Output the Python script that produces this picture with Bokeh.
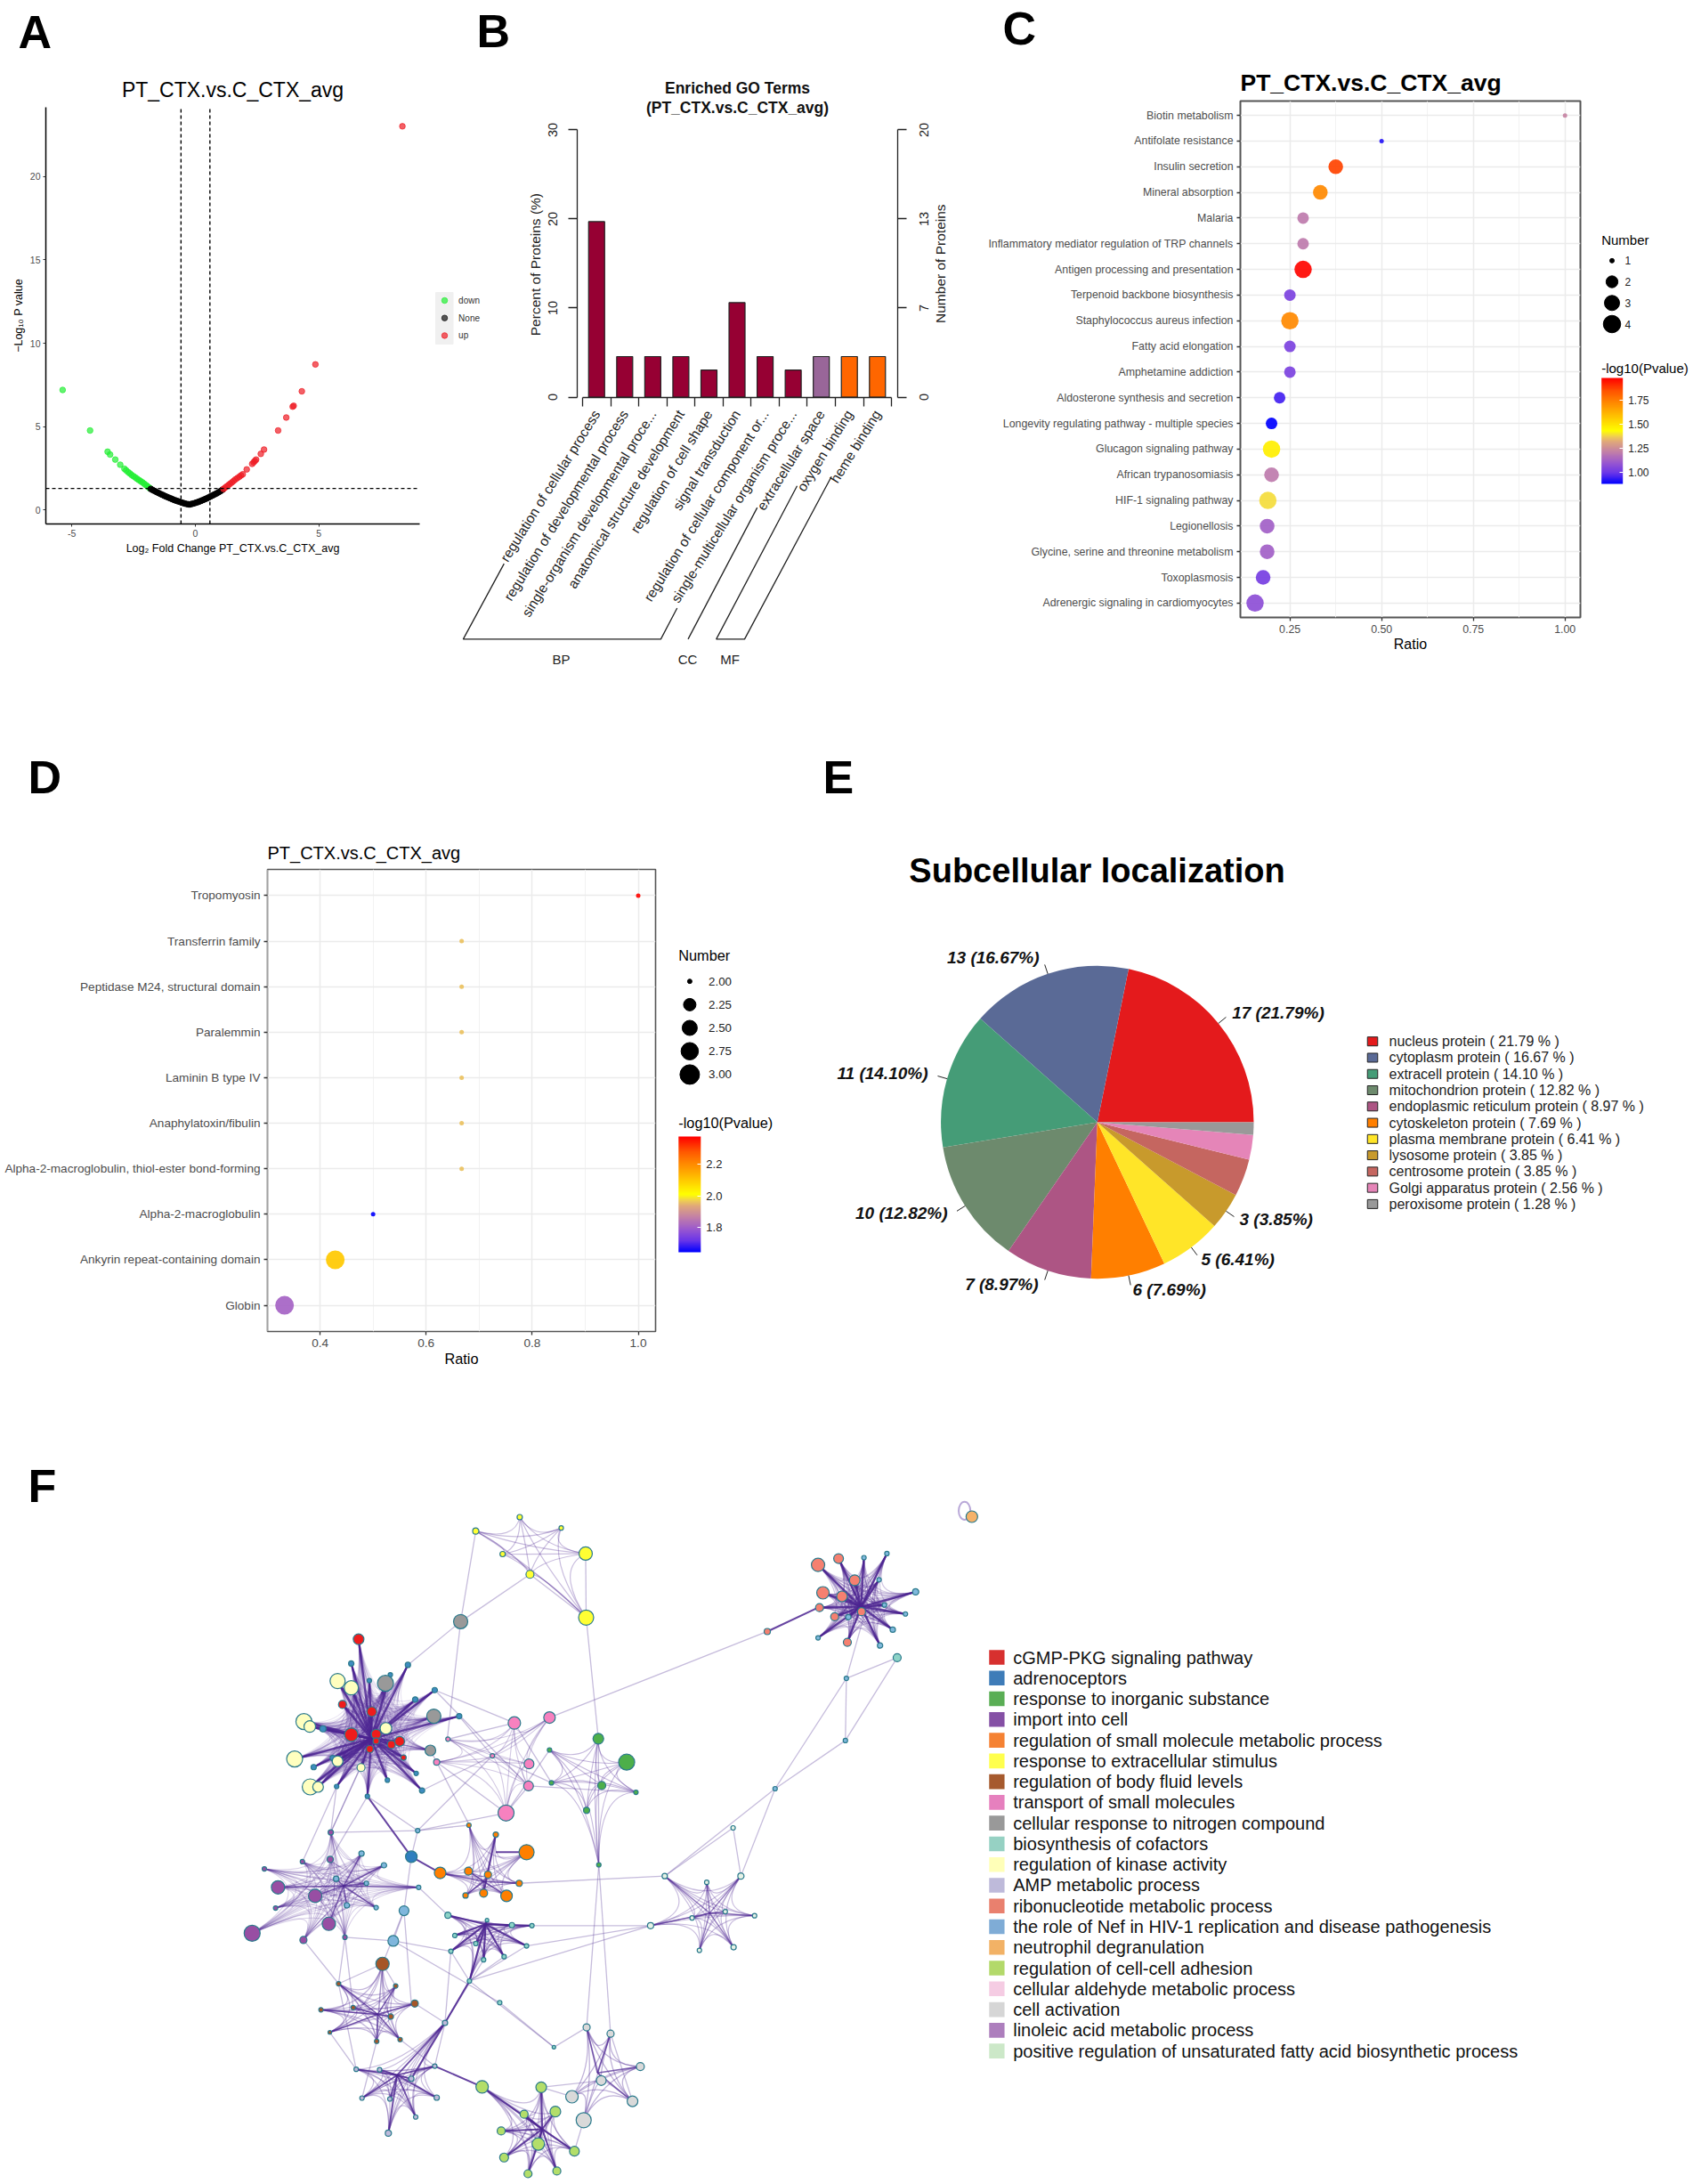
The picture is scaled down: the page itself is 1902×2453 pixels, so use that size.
import math
from bokeh.plotting import figure
from bokeh.layouts import column, row
from bokeh.embed import file_html
from bokeh.resources import INLINE
from bokeh.core.properties import value
from bokeh.models import (Range1d, FactorRange, LinearAxis, FixedTicker, AllLabels,
                          LinearColorMapper, ColorBar, PrintfTickFormatter, ColumnDataSource)

FONT = "Liberation Sans"

# ---------- Panel A: volcano ----------
down_x = [-5.37,-4.26,-3.55,-3.45,-3.24,-3.04,-2.87,-2.80,-2.72,-2.65,-2.58,-2.50,-2.42,-2.35,-2.28,-2.21,-2.14,-2.07,-2.00,-1.94,-1.88,-1.84]
down_y = [7.2,4.77,3.5,3.33,3.03,2.72,2.48,2.38,2.28,2.2,2.11,2.03,1.95,1.87,1.80,1.73,1.66,1.58,1.5,1.43,1.36,1.31]
none_x = [-1.80,-1.72,-1.64,-1.56,-1.48,-1.40,-1.32,-1.24,-1.16,-1.08,-1.0,-.92,-.84,-.76,-.68,-.6,-.52,-.44,-.36,-.28,-.23,-.18,-.1,-.02,.06,.14,.22,.3,.38,.46,.54,.62,.7,.78,.86,.94,1.02,1.10]
none_y = [1.27,1.20,1.14,1.08,1.02,.96,.91,.85,.80,.75,.70,.65,.60,.56,.52,.48,.44,.40,.37,.35,.34,.36,.39,.42,.46,.50,.55,.60,.65,.70,.76,.82,.88,.94,1.0,1.07,1.14,1.22]
up_x = [1.14,1.2,1.27,1.34,1.41,1.48,1.55,1.62,1.7,1.78,1.85,1.92,2.08,2.3,2.36,2.41,2.46,2.65,2.78,3.35,3.68,3.94,3.98,4.31,4.86,8.38]
up_y = [1.27,1.34,1.42,1.5,1.58,1.66,1.75,1.84,1.92,2.0,2.08,2.15,2.44,2.77,2.87,2.95,3.03,3.37,3.63,4.77,5.55,6.2,6.25,7.12,8.73,23.0]
volcano_groups = ["down", "None", "up"]

# ---------- Panel B: GO terms ----------
go_terms = ["regulation of cellular process","regulation of developmental process","single-organism developmental proce...",
            "anatomical structure development","regulation of cell shape","signal transduction",
            "regulation of cellular component or...","single-multicellular organism proce...","extracellular space",
            "oxygen binding","heme binding"]
go_percent = [19.7,4.55,4.55,4.55,3.03,10.6,4.55,3.03,4.55,4.55,4.55]
go_class = ["BP"]*8 + ["CC"] + ["MF"]*2
go_ticks_pct = [0,10,20,30]
go_ticks_num = ["0","7","13","20"]

# ---------- Panel C: KEGG bubble ----------
kegg_terms = ["Biotin metabolism","Antifolate resistance","Insulin secretion","Mineral absorption","Malaria",
              "Inflammatory mediator regulation of TRP channels","Antigen processing and presentation",
              "Terpenoid backbone biosynthesis","Staphylococcus aureus infection","Fatty acid elongation",
              "Amphetamine addiction","Aldosterone synthesis and secretion","Longevity regulating pathway - multiple species",
              "Glucagon signaling pathway","African trypanosomiasis","HIF-1 signaling pathway","Legionellosis",
              "Glycine, serine and threonine metabolism","Toxoplasmosis","Adrenergic signaling in cardiomyocytes"]
kegg_ratio = [1.0,.5,.375,.333,.286,.286,.286,.25,.25,.25,.25,.222,.2,.2,.2,.19,.188,.188,.177,.155]
kegg_number = [1,1,3,3,2,2,4,2,4,2,2,2,2,4,3,4,3,3,3,4]
kegg_logp = [1.22,.92,1.87,1.72,1.2,1.2,1.97,1.03,1.72,1.03,1.03,.95,.88,1.47,1.2,1.39,1.12,1.12,1.02,1.07]

# ---------- Panel D: domain bubble ----------
dom_terms = ["Tropomyosin","Transferrin family","Peptidase M24, structural domain","Paralemmin","Laminin B type IV",
             "Anaphylatoxin/fibulin","Alpha-2-macroglobulin, thiol-ester bond-forming","Alpha-2-macroglobulin",
             "Ankyrin repeat-containing domain","Globin"]
dom_ratio = [1.0,.667,.667,.667,.667,.667,.667,.5,.4286,.333]
dom_number = [2,2,2,2,2,2,2,2,3,3]
dom_logp = [2.37,1.96,1.96,1.96,1.96,1.96,1.96,1.645,2.1,1.81]

# ---------- Panel E: subcellular pie ----------
loc_names = ["nucleus protein","cytoplasm protein","extracell protein","mitochondrion protein","endoplasmic reticulum protein",
             "cytoskeleton protein","plasma membrane protein","lysosome protein","centrosome protein","Golgi apparatus protein","peroxisome protein"]
loc_counts = [17,13,11,10,7,6,5,3,3,2,1]
loc_pct = [21.79,16.67,14.10,12.82,8.97,7.69,6.41,3.85,3.85,2.56,1.28]
loc_colors = ["#E41A1C","#5A6A96","#459C77","#6D8A6D","#AD5584","#FF7F00","#FFE528","#C89A2C","#C56660","#E585B8","#999999"]

# ---------- Panel F: enrichment network ----------
f_terms = ["cGMP-PKG signaling pathway","adrenoceptors","response to inorganic substance","import into cell",
           "regulation of small molecule metabolic process","response to extracellular stimulus","regulation of body fluid levels",
           "transport of small molecules","cellular response to nitrogen compound","biosynthesis of cofactors","regulation of kinase activity",
           "AMP metabolic process","ribonucleotide metabolic process","the role of Nef in HIV-1 replication and disease pathogenesis",
           "neutrophil degranulation","regulation of cell-cell adhesion","cellular aldehyde metabolic process","cell activation",
           "linoleic acid metabolic process","positive regulation of unsaturated fatty acid biosynthetic process"]
f_colors = ["#D7302F","#3E7CB8","#5AAE55","#8550A5","#F58233","#FFFF4D","#A65A2E","#E680BE","#999999","#96D1C3","#FFFFB8",
            "#BEBADA","#E9806E","#7FACD6","#F2B266","#B3D96A","#F5CCE3","#D6D6D6","#AD7FBD","#CCE8C8"]

red_nodes = [(296,357,12),(263,502,9),(323,518,11),(281,569,15),(332,568,11),(332,583,7),(319,601,8),(363,591,9),(380,584,11),(388,620,6)]
blue_nodes = [(281,411,6),(318,449,5),(361,436,5),(397,414,6),(412,491,6),(452,470,6),(502,528,6),(223,556,7),(204,641,6),(243,621,6),(251,684,5),(314,706,5),(355,670,5),(414,655,5),(426,693,6)]
kinase_nodes = [(253,450,17),(281,465,16),(184,540,18),(196,551,13),(352,555,13),(165,623,18),(253,628,12),(301,642,9),(197,685,18),(213,685,12)]
grey_nodes = [(351,455,18),(450,528,16),(443,604,12)]
grey_far = [(505,318,16)]
yellow_nodes = [(536,117,7),(626,86,6),(711,110,5),(591,168,6),(647,213,9),(761,167,15),(762,309,17)]
pink_nodes = [(615,543,14),(687,531,13),(570,616,5),(479,579,5),(456,630,7),(645,634,11),(644,683,11),(598,743,18)]
green_nodes = [(787,578,12),(845,630,18),(794,682,9),(763,737,7),(864,697,5),(691,676,5),(687,603,5),(788,858,5)]
orange_nodes = [(640,830,17),(577,791,6),(522,770,5),(463,876,13),(521,872,9),(561,880,8),(625,899,7),(599,927,13),(552,921,9),(515,926,6)]
adren_far = [(404,840,13)]
purple_nodes = [(131,908,15),(207,927,15),(235,989,15),(78,1010,18),(103,867,5),(183,1025,8),(126,954,5),(268,1019,5),(239,786,6),(238,846,7),(181,851,5)]
nef_nodes = [(302,833,6),(348,859,6),(250,889,6),(312,899,5),(272,948,6),(332,953,5),(419,908,5),(389,960,11),(367,1027,12),(417,782,5)]
cof_nodes = [(479,970,7),(493,1015,5),(485,1050,5),(536,1033,5),(559,981,4),(610,992,6),(651,993,5),(640,1038,5),(594,1062,5),(552,1069,5),(523,1116,5)]
cof_far = [(585,1164,5),(696,1263,4)]
brown_nodes = [(345,1078,15),(255,1122,5),(372,1127,5),(411,1166,8),(362,1195,6),(285,1175,5),(219,1180,5),(237,1230,4),(333,1250,5),(381,1246,5)]
amp_nodes = [(473,1209,6),(452,1305,5),(291,1312,5),(339,1313,5),(404,1333,6),(303,1376,5),(360,1378,5),(456,1375,6),(413,1418,5),(357,1454,7)]
lime_nodes = [(549,1351,14),(670,1352,12),(635,1412,9),(699,1406,12),(588,1449,9),(664,1478,14),(738,1494,11),(594,1508,10),(643,1544,9),(702,1538,9)]
cellact_nodes = [(733,1373,14),(793,1337,11),(757,1425,17),(857,1383,12),(873,1306,9),(763,1219,8),(812,1233,8)]
ribo_nodes = [(1237,192,15),(1279,178,11),(1312,226,12),(1247,254,14),(1286,262,12),(1240,287,9),(1271,307,9),(1326,296,9),(1297,364,9)]
ribo_far = [(1133,340,7)]
sky_nodes = [(1331,176,5),(1378,167,5),(1362,225,5),(1437,252,7),(1416,301,5),(1373,281,5),(1299,308,6),(1390,336,6),(1364,371,6),(1237,354,5)]
sky_far = [(1295,444,5),(1293,582,5),(1149,689,5)]
teal_far = [(1399,398,9)]
neut_nodes = [(1552,85,13)]
pale_nodes = [(923,883,6),(1009,897,5),(1079,883,7),(979,976,5),(1047,962,5),(1107,971,5),(894,993,7),(994,1048,5),(1064,1041,6)]
pale_far = [(1063,776,5)]

link_pairs = [(505,318,536,117),(505,318,647,213),(505,318,397,414),(505,318,478,575),(762,309,787,578),(762,309,647,213),
              (761,167,762,309),(687,531,1133,340),(1295,444,1149,689),(1293,582,1149,689),(1295,444,1293,582),(1399,398,1293,582),
              (1399,398,1295,444),(1295,444,1330,310),(1149,689,923,883),(1149,689,1079,883),(1063,776,923,883),(1063,776,1079,883),
              (923,883,625,899),(894,993,651,993),(894,993,523,1116),(788,858,787,578),(788,858,763,1219),(788,858,812,1233),
              (696,1263,523,1116),(696,1263,763,1219),(367,1027,585,1164),(585,1164,696,1263),(404,840,417,782),(404,840,389,960),
              (389,960,367,1027),(417,782,570,616),(417,782,239,786),(239,786,300,640),(268,1019,255,1122),(268,1019,285,1175),
              (183,1025,255,1122),(473,1209,523,1116),(473,1209,552,1069),(452,470,644,683),(456,630,523,770),(456,630,598,743),
              (522,770,417,782),(598,743,417,782),(345,1078,372,1127),(345,1078,255,1122),(670,1352,733,1373),(757,1425,738,1494),
              (549,1351,635,1412),(452,470,615,543),(502,528,570,616),(479,579,615,543),(598,743,644,683),(426,693,570,616),
              (300,642,239,786),(314,706,417,782),(251,684,239,786),(367,1027,485,1050),(419,908,479,970),(473,1209,485,1050),
              (452,1305,473,1209),(345,1078,333,1250),(411,1166,473,1209),(291,1312,255,1122),(237,1230,291,1312),(381,1246,452,1305),
              (333,1250,303,1376),(640,1038,894,993),(523,1116,640,1038),(523,1116,594,1062),(523,1116,485,1050),(857,1383,812,1233),
              (670,1352,793,1337),(345,1078,389,960),(268,1019,367,1027),(238,846,314,706),(181,851,251,684),(389,960,404,1166),
              (456,630,443,604),(687,603,598,743),(615,543,691,676),(570,616,691,676),(644,683,864,697),(687,531,570,616)]
strong_pairs = [(1133,340,1237,287),(404,840,314,706),(404,840,463,876),(452,1305,549,1351),(473,1209,404,1333),(523,1116,473,1209),(577,791,552,921),(640,830,577,830)]

# ---------- colour scale shared by C and D ----------
stops = [(0,"#0000ff"),(.1,"#6a35e8"),(.2,"#9a58cf"),(.3,"#c27fa8"),(.4,"#e0a87a"),(.45,"#f0d050"),(.5,"#ffff00"),
         (.625,"#ffc800"),(.75,"#ff9000"),(.875,"#ff5500"),(1,"#ff0000")]
def ramp(n=256):
    out = []
    for i in range(n):
        t = i/(n-1)
        for (a, ca), (b, cb) in zip(stops, stops[1:]):
            if t <= b:
                f = (t-a)/(b-a)
                rgb = [round(int(ca[k:k+2],16)*(1-f)+int(cb[k:k+2],16)*f) for k in (1,3,5)]
                out.append("#%02x%02x%02x" % tuple(rgb))
                break
    return out
PAL = ramp()

def txt(p, x, y, s, size, color="#222222", align="left", base="middle", style="normal", angle=0.0):
    p.text(x=[x], y=[y], text=[s], text_font=value(FONT), text_font_size=size, text_color=color,
           text_align=align, text_baseline=base, text_font_style=style, angle=angle)

def px_fig(x0, x1, y0, y1):
    """a figure whose data units are picture pixels"""
    p = figure(width=x1-x0, height=y1-y0, x_range=Range1d(x0, x1), y_range=Range1d(y1, y0), output_backend="svg",
               toolbar_location=None, min_border=0, outline_line_color=None, background_fill_color=None, border_fill_color=None,
               frame_align=False)
    p.axis.visible = False
    p.grid.visible = False
    return p

LETTER_DY = 19
def letter_text(p, s, x, y):
    txt(p, x, y-LETTER_DY, s, "52px", "black", "left", "alphabetic", "bold")

def letter_fig(s, x0, x1, y0, x, y):
    p = px_fig(x0, x1, y0, y0+80)
    letter_text(p, s, x, y)
    return p

ROW1 = (0, 840)
ROW2 = (840, 1620)
ROW3 = (1620, 2450)

# ===== A =====
A_L, A_R, A_T, A_B = 51, 471, 120, 588
lettA = letter_fig("A", 0, 70, ROW1[0], 20, 54)
pa = figure(width=488, height=ROW1[1]-ROW1[0], x_range=Range1d(-6.05, 9.08), y_range=Range1d(-0.83, 24.14),
            output_backend="svg", toolbar_location=None, min_border_left=A_L, min_border_right=488-A_R,
            min_border_top=A_T-ROW1[0], min_border_bottom=ROW1[1]-A_B, outline_line_color=None,
            border_fill_color=None, title="PT_CTX.vs.C_CTX_avg", frame_align=False, margin=(0, 0, 0, -70))
pa.title.align = "center"; pa.title.text_font = FONT; pa.title.text_font_size = "23px"; pa.title.text_font_style = "normal"
pa.title.text_color = "black"; pa.title.standoff = 13
pa.grid.visible = False
pa.scatter(down_x, down_y, size=6.5, color="#22ee33", alpha=.7)
pa.scatter(none_x, none_y, size=6.5, color="black", alpha=.9)
pa.scatter(up_x, up_y, size=6.5, color="#ee1c25", alpha=.7)
pa.line([-6.05, 9.08], [1.3, 1.3], color="black", line_dash="4 3", line_width=1.4)
pa.line([-.58, -.58], [-.83, 24.14], color="black", line_dash="4 3", line_width=1.4)
pa.line([.59, .59], [-.83, 24.14], color="black", line_dash="4 3", line_width=1.4)
pa.xaxis.ticker = FixedTicker(ticks=[-5, 0, 5]); pa.yaxis.ticker = FixedTicker(ticks=[0, 5, 10, 15, 20])
pa.xaxis.major_label_overrides = {-5: "-5", 0: "0", 5: "5"}
for ax in (pa.xaxis[0], pa.yaxis[0]):
    ax.axis_line_color = "black"; ax.axis_line_width = 1.5
    ax.major_tick_out = 3; ax.major_tick_in = 0; ax.minor_tick_line_color = None; ax.major_tick_line_color = "#333333"
    ax.major_label_text_font = FONT; ax.major_label_text_font_size = "10.5px"; ax.major_label_text_color = "#4d4d4d"
    ax.major_label_standoff = 3
    ax.axis_label_text_font = FONT; ax.axis_label_text_font_size = "12.5px"; ax.axis_label_text_font_style = "normal"
    ax.axis_label_text_color = "black"; ax.axis_label_standoff = 3
pa.xaxis.axis_label = "Log\u2082 Fold Change PT_CTX.vs.C_CTX_avg"
pa.yaxis.axis_label = "\u2212Log\u2081\u2080 P value"
pa.yaxis.major_label_orientation = "horizontal"

lega = px_fig(488, 540, ROW1[0], ROW1[1])
lega.quad(left=[489], right=[508.5], top=[328], bottom=[386], color="#f0f0f0")
for i, (g, c) in enumerate(zip(volcano_groups, ["#22ee33", "#111111", "#ee1c25"])):
    yy = 337 + i*19.7
    lega.scatter([499], [yy], size=6.5, color=c, alpha=.7)
    txt(lega, 514.6, yy, g, "10px", "#333333")

# ===== B =====
bx0, bsx = 654.0, 31.55
by0, bsy = 445.5, 10.0035
BX = lambda px: (px-bx0)/bsx
BY = lambda py: (by0-py)/bsy
pb = figure(width=1100-515, height=ROW1[1]-ROW1[0], x_range=Range1d(BX(515), BX(1100)), y_range=Range1d(BY(ROW1[1]), BY(ROW1[0])),
            output_backend="svg", toolbar_location=None, min_border=0, outline_line_color=None,
            background_fill_color=None, border_fill_color=None, margin=(0, 0, 0, -25), frame_align=False)
pb.grid.visible = False
go_centers = [i+.5 for i in range(len(go_terms))]
go_fill = {"BP": "#960033", "CC": "#996699", "MF": "#FF6600"}
pb.vbar(x=go_centers, top=go_percent, width=.57, fill_color=[go_fill[c] for c in go_class], line_color="#222222", line_width=1.2)
xa = pb.xaxis[0]
xa.fixed_location = 0; xa.bounds = (0, 11); xa.ticker = FixedTicker(ticks=list(range(12)))
xa.major_label_overrides = {t: "" for t in range(12)}; xa.major_tick_in = 0; xa.major_tick_out = 10; xa.minor_tick_line_color = None
xa.axis_line_color = "#222222"; xa.major_tick_line_color = "#222222"; xa.axis_line_width = 1.3; xa.major_tick_line_width = 1.3
lab_ax = LinearAxis(fixed_location=0, ticker=FixedTicker(ticks=go_centers),
                    major_label_overrides={c: t for c, t in zip(go_centers, go_terms)}, major_label_policy=AllLabels(),
                    axis_line_color=None, major_tick_line_color=None, minor_tick_line_color=None,
                    major_label_orientation=math.radians(58), major_label_text_font=FONT, major_label_text_font_size="15.5px",
                    major_label_text_color="#222222", major_label_standoff=10)
pb.add_layout(lab_ax, "below")
ya = pb.yaxis[0]
ya.fixed_location = BX(648); ya.bounds = (0, 30); ya.ticker = FixedTicker(ticks=go_ticks_pct)
ra = LinearAxis(fixed_location=BX(1008), bounds=(0, 30), ticker=FixedTicker(ticks=go_ticks_pct))
pb.add_layout(ra, "right")
for ax in (ya, ra):
    ax.major_tick_in = 0; ax.major_tick_out = 10; ax.minor_tick_line_color = None
    ax.axis_line_color = "#222222"; ax.major_tick_line_color = "#222222"; ax.axis_line_width = 1.3; ax.major_tick_line_width = 1.3
    ax.major_label_overrides = {t: "" for t in go_ticks_pct}
for t, n in zip(go_ticks_pct, go_ticks_num):
    txt(pb, BX(620.5), t, str(t), "14.5px", "#222222", "center", "middle", angle=math.pi/2)
    txt(pb, BX(1037.7), t, n, "14.5px", "#222222", "center", "middle", angle=math.pi/2)
txt(pb, BX(601.4), BY(296.6), "Percent of Proteins (%)", "15.5px", "#222222", "center", "middle", angle=math.pi/2)
txt(pb, BX(1055.7), BY(295.7), "Number of Proteins", "15.5px", "#222222", "center", "middle", angle=math.pi/2)
txt(pb, BX(828), BY(98.4), "Enriched GO Terms", "17.5px", "#111111", "center", "middle", "bold")
txt(pb, BX(828), BY(120.7), "(PT_CTX.vs.C_CTX_avg)", "17.5px", "#111111", "center", "middle", "bold")
bracket_lines = [[(565.8,632.6),(519.9,717.4),(741.9,717.4),(760.2,682.5)], [(850.2,569.6),(772.5,717.4)],
                 [(895,545.3),(804.2,717.4),(836,717.4),(933.6,534.7)]]
for br in bracket_lines:
    pb.line([BX(a) for a, _ in br], [BY(b) for _, b in br], color="#222222", line_width=1.3)
for s, xx in zip(["BP", "CC", "MF"], [630, 772, 819.6]):
    txt(pb, BX(xx), BY(740), s, "15px", "#222222", "center")
txt(pb, BX(535), BY(53-LETTER_DY), "B", "52px", "black", "left", "alphabetic", "bold")

# ===== C / D bubbles =====
def bubble(x0, x1, y0, y1, L, R, T, B, terms, ratio, number, logp, xr, mapper, sizes, ticks, minors, tick_fs, lab_fs, title,
           title_fs, title_style, out_w, pad, standoff, lm):
    p = figure(width=x1-x0, height=y1-y0, x_range=Range1d(*xr), y_range=FactorRange(factors=terms[::-1], range_padding=pad, range_padding_units="absolute"),
               output_backend="svg", toolbar_location=None, min_border_left=L-x0, min_border_right=x1-R,
               min_border_top=T-y0, min_border_bottom=y1-B, outline_line_color="#555555", outline_line_width=out_w,
               border_fill_color=None, title=title, frame_align=False, margin=(0, 0, 0, -lm))
    p.title.align = "left"; p.title.text_font = FONT; p.title.text_font_size = title_fs; p.title.text_font_style = title_style
    p.title.text_color = "black"; p.title.standoff = standoff; p.title.offset = 0
    src = ColumnDataSource(dict(x=ratio, y=terms, n=number, logp=logp, s=[sizes[n] for n in number]))
    p.scatter("x", "y", size="s", source=src, line_color=None, fill_alpha=.92,
              fill_color={"field": "logp", "transform": mapper})
    xa = p.xaxis[0]; ya = p.yaxis[0]
    xa.ticker = FixedTicker(ticks=ticks, minor_ticks=minors)
    xa.major_label_overrides = {t: ("%.2f" % t if ticks[0] == .25 else "%.1f" % t) for t in ticks}
    for ax in (xa, ya):
        ax.axis_line_color = None; ax.major_tick_out = 4; ax.major_tick_in = 0; ax.minor_tick_line_color = None
        ax.major_tick_line_color = "#333333"; ax.major_tick_line_width = 1.3
        ax.major_label_text_font = FONT; ax.major_label_text_font_size = tick_fs; ax.major_label_text_color = "#4d4d4d"
        ax.major_label_standoff = 4
    xa.axis_label = "Ratio"; xa.axis_label_text_font = FONT; xa.axis_label_text_font_size = lab_fs
    xa.axis_label_text_font_style = "normal"; xa.axis_label_text_color = "black"; xa.axis_label_standoff = 1
    p.xgrid.grid_line_color = "#ebebeb"; p.xgrid.grid_line_width = 1.5
    p.xgrid.minor_grid_line_color = "#f2f2f2"; p.xgrid.minor_grid_line_width = 1
    p.ygrid.grid_line_color = "#ebebeb"; p.ygrid.grid_line_width = 1.5
    return p

def size_legend(x0, x1, y0, y1, head, head_x, head_y, head_fs, key_x, key_ys, key_sizes, key_labels, txt_x, txt_fs, mapper, cb_x, cb_top, cb_bot, cb_w, cb_ticks, cb_fmt, cb_fs, cb_title_y):
    p = px_fig(x0, x1, y0, y1)
    txt(p, head_x, head_y, head, head_fs, "black")
    p.scatter([key_x]*len(key_ys), key_ys, size=key_sizes, color="black")
    for yy, s in zip(key_ys, key_labels):
        txt(p, txt_x, yy, s, txt_fs, "#222222")
    txt(p, head_x, cb_title_y, "-log10(Pvalue)", head_fs, "black")
    cb = ColorBar(color_mapper=mapper, location=(cb_x-x0, y1-cb_bot), width=cb_w, height=cb_bot-cb_top, padding=0, margin=0,
                  ticker=FixedTicker(ticks=cb_ticks), formatter=PrintfTickFormatter(format=cb_fmt), major_tick_line_color="white",
                  major_tick_in=4, major_tick_out=0, minor_tick_line_color=None, major_label_text_font=FONT,
                  major_label_text_font_size=cb_fs, major_label_text_color="#222222", label_standoff=6, bar_line_color=None)
    p.add_layout(cb, "center")
    return p

kegg_mapper = LinearColorMapper(palette=PAL, low=.879, high=1.979)
kegg_sizes = {1: 5, 2: 13, 3: 16.5, 4: 19.5}
C_L, C_R, C_T, C_B = 1393, 1775, 113, 693
lettC = letter_fig("C", 1100, 1180, ROW1[0], 1126, 50)
pc = bubble(1100, 1780, ROW1[0], ROW1[1], C_L, C_R, C_T, C_B, kegg_terms, kegg_ratio, kegg_number, kegg_logp, (.115, 1.042), kegg_mapper,
            kegg_sizes, [.25, .5, .75, 1.0], [.375, .625, .875], "12.35px", "16px", "PT_CTX.vs.C_CTX_avg", "26.5px", "bold", 2, .06, 12, 80)
legc = size_legend(1780, 1900, ROW1[0], ROW1[1], "Number", 1798.7, 269, "15px", 1810.5, [292.3, 316, 339.8, 363.5], [5, 13.3, 17, 19.5],
                   ["1", "2", "3", "4"], 1825, "12px", kegg_mapper, 1798.7, 424, 543, 24, [1, 1.25, 1.5, 1.75], "%.2f", "12px", 413)

dom_mapper = LinearColorMapper(palette=PAL, low=1.642, high=2.377)
dom_sizes = {2: 5, 3: 21}
D_L, D_R, D_T, D_B = 300, 736, 976, 1495
lettD = letter_fig("D", 0, 80, ROW2[0], 31, 891)
pd_ = bubble(0, 745, ROW2[0], ROW2[1], D_L, D_R, D_T, D_B, dom_terms, dom_ratio, dom_number, dom_logp, (.3008, 1.0327), dom_mapper,
             dom_sizes, [.4, .6, .8, 1.0], [.3, .5, .7, .9], "13.6px", "16.3px", "PT_CTX.vs.C_CTX_avg", "20px", "normal", 1.6, .075, 16, 80)
legd = size_legend(745, 900, ROW2[0], ROW2[1], "Number", 761.8, 1072.8, "16.3px", 774.4, [1101.7, 1127.9, 1154, 1180.2, 1206.4], [5, 14, 17, 19.5, 22],
                   ["2.00", "2.25", "2.50", "2.75", "3.00"], 795.6, "13.3px", dom_mapper, 761.8, 1276, 1406, 25, [1.8, 2.0, 2.2], "%.1f", "13px", 1260.6)

# ===== E =====
pe = px_fig(900, 1900, ROW2[0], ROW2[1])
txt(pe, 1232, 977, "Subcellular localization", "38px", "black", "center", "middle", "bold")
CX, CY, RAD = 1232.3, 1260.0, 175.7
cum = 0.0
tot = sum(loc_counts)
starts, ends = [], []
for v in loc_counts:
    starts.append(2*math.pi*cum/tot); cum += v; ends.append(2*math.pi*cum/tot)
pe.wedge(x=[CX]*len(starts), y=[CY]*len(starts), radius=RAD, start_angle=starts, end_angle=ends, fill_color=loc_colors, line_color=None, direction="anticlock")
lab_pos = {0: (1383.7, 1137, "left"), 1: (1167, 1075, "right"), 2: (1042, 1205, "right"), 3: (1064, 1362, "right"),
           4: (1166, 1442, "right"), 5: (1272, 1448, "left"), 6: (1349, 1413.5, "left"), 7: (1392, 1369, "left")}
for i, (xx, yy, al) in lab_pos.items():
    mid = (starts[i]+ends[i])/2
    pe.line([CX+RAD*math.cos(mid), CX+(RAD+11)*math.cos(mid)], [CY-RAD*math.sin(mid), CY-(RAD+11)*math.sin(mid)], color="#222222", line_width=1)
    txt(pe, xx, yy, "%d (%.2f%%)" % (loc_counts[i], loc_pct[i]), "19px", "#111111", al, "middle", "bold italic")
for i, (n, pc_, c) in enumerate(zip(loc_names, loc_pct, loc_colors)):
    yy = 1169.2 + i*18.27
    pe.rect([1541.5], [yy], width=11.5, height=10, fill_color=c, line_color="#222222", line_width=1)
    txt(pe, 1560, yy, "%s  ( %.2f %% )" % (n, pc_), "16px", "#222222")
letter_text(pe, "E", 924, 891)

# ===== F =====
fx = lambda px: (px-240)*1.823
fy = lambda py: (py-1660)*1.977
pf = figure(width=1110, height=ROW3[1]-ROW3[0], x_range=Range1d(fx(0), fx(1110)), y_range=Range1d(fy(ROW3[1]), fy(ROW3[0])),
            output_backend="svg", toolbar_location=None, min_border=0, outline_line_color=None, background_fill_color=None, border_fill_color=None,
            frame_align=False)
pf.axis.visible = False; pf.grid.visible = False
EDGE = "#4B2391"
def star(nodes, cx, cy, alpha, width, pull=.85):
    x0, y0, x1, y1, qx, qy = [], [], [], [], [], []
    for i in range(len(nodes)):
        for j in range(i+1, len(nodes)):
            a, b = nodes[i], nodes[j]
            x0.append(a[0]); y0.append(a[1]); x1.append(b[0]); y1.append(b[1])
            mx, my = (a[0]+b[0])/2, (a[1]+b[1])/2
            qx.append(mx+pull*(cx-mx)); qy.append(my+pull*(cy-my))
    pf.quadratic(x0=x0, y0=y0, x1=x1, y1=y1, cx=qx, cy=qy, line_color=EDGE, line_alpha=alpha, line_width=width)
def spokes(nodes, cx, cy, alpha, width):
    pf.segment(x0=[cx]*len(nodes), y0=[cy]*len(nodes), x1=[n[0] for n in nodes], y1=[n[1] for n in nodes], line_color=EDGE, line_alpha=alpha, line_width=width)
star(red_nodes+blue_nodes+kinase_nodes+grey_nodes, 322, 578, .12, 1.1)
spokes(red_nodes+blue_nodes+kinase_nodes, 322, 578, .8, 2.4)
star(yellow_nodes, 645, 170, .3, 1.2, .55)
star(pink_nodes, 600, 625, .25, 1.1, .6)
star(green_nodes, 765, 655, .32, 1.1, .65)
star(orange_nodes, 552, 895, .3, 1.2, .75)
spokes(orange_nodes[3:], 552, 895, .7, 1.6)
star(cof_nodes, 556, 995, .3, 1.2)
spokes(cof_nodes, 556, 990, .85, 2.2)
star(purple_nodes+nef_nodes[:7], 265, 905, .2, 1.1, .7)
spokes(purple_nodes[:3]+nef_nodes[:7], 265, 905, .7, 1.5)
star(brown_nodes, 335, 1190, .32, 1.2, .7)
spokes(brown_nodes[1:], 335, 1190, .75, 1.5)
star(amp_nodes, 375, 1325, .3, 1.2, .75)
spokes(amp_nodes, 375, 1325, .8, 1.8)
star(lime_nodes, 672, 1445, .3, 1.3, .75)
spokes(lime_nodes, 672, 1445, .85, 2.0)
star(cellact_nodes, 785, 1320, .35, 1.3, .7)
spokes(cellact_nodes[3:], 785, 1320, .7, 1.6)
star(ribo_nodes+sky_nodes, 1325, 285, .25, 1.2)
spokes(ribo_nodes+sky_nodes, 1325, 285, .85, 2.3)
star(pale_nodes, 1015, 965, .3, 1.2, .8)
spokes(pale_nodes, 1015, 965, .6, 1.4)
pf.segment(x0=[l[0] for l in link_pairs], y0=[l[1] for l in link_pairs], x1=[l[2] for l in link_pairs], y1=[l[3] for l in link_pairs],
           line_color="#6a4fa3", line_alpha=.38, line_width=1.3)
pf.segment(x0=[l[0] for l in strong_pairs], y0=[l[1] for l in strong_pairs], x1=[l[2] for l in strong_pairs], y1=[l[3] for l in strong_pairs],
           line_color=EDGE, line_alpha=.85, line_width=2)
pf.ellipse(x=[1537], y=[72], width=24, height=40, fill_color=None, line_color="#b9a8d8", line_width=2)
node_sets = [(red_nodes,"#EE1C1C"),(blue_nodes,"#3E8CC0"),(kinase_nodes,"#FFFFBF"),(grey_nodes+grey_far,"#999999"),(yellow_nodes,"#FFFF33"),
             (pink_nodes,"#F781BF"),(green_nodes,"#4DAF4A"),(orange_nodes,"#FF7F00"),(adren_far,"#2F7FBF"),(purple_nodes,"#984EA3"),
             (nef_nodes,"#7FB6DC"),(cof_nodes+cof_far,"#8DD3C7"),(brown_nodes,"#A65628"),(amp_nodes,"#BEBADA"),(lime_nodes,"#B3DE69"),
             (cellact_nodes,"#D9D9D9"),(ribo_nodes+ribo_far,"#F58070"),(sky_nodes+sky_far,"#80B8DC"),(teal_far,"#8DD3C7"),(neut_nodes,"#F5B26A"),
             (pale_nodes+pale_far,"#E6F2E6")]
for nodes, col in node_sets:
    pf.scatter([n[0] for n in nodes], [n[1] for n in nodes], size=[n[2] for n in nodes], fill_color=col, line_color="#2B7A8C", line_width=1.2)
pf.text(x=[fx(31)], y=[fy(1687-LETTER_DY)], text=["F"], text_font=value(FONT), text_font_size="52px", text_font_style="bold", text_color="black", text_baseline="alphabetic")

legf = px_fig(1110, 1900, ROW3[0], ROW3[1])
for i, (t, c) in enumerate(zip(f_terms, f_colors)):
    yy = 1861 + i*23.27
    legf.rect([1119.4], [yy], width=17.3, height=16.6, fill_color=c, line_color=None)
    txt(legf, 1137.7, yy, t, "20px", "#111111")

layout = column(row(lettA, pa, lega, pb, lettC, pc, legc), row(lettD, pd_, legd, pe), row(pf, legf))
open("out.html", "w").write(file_html(layout, INLINE))
